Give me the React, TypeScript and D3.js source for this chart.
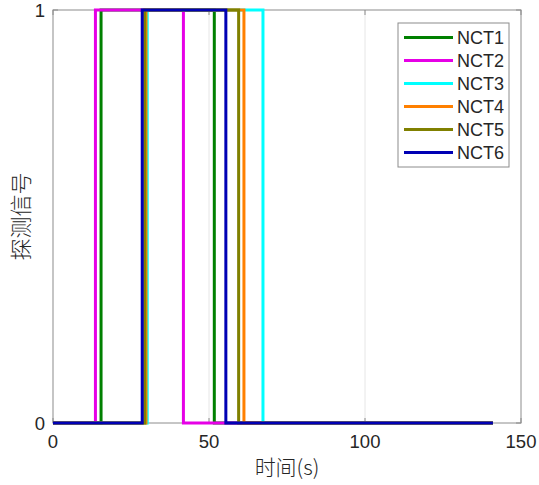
import React from "react";
import * as d3 from "d3";

const seriesNames = ["NCT1", "NCT2", "NCT3", "NCT4", "NCT5", "NCT6"];
const seriesColors = ["#008000", "#e600e6", "#00ffff", "#ff8000", "#808000", "#0000b4"];
// step signals: time points and values
const nct1T = [0, 15.4, 15.4, 51.7, 51.7, 141];
const nct2T = [0, 13.6, 13.6, 41.8, 41.8, 141];
const nct3T = [0, 30.2, 30.2, 67.3, 67.3, 141];
const nct4T = [0, 29.8, 29.8, 61.2, 61.2, 141];
const nct5T = [0, 29.4, 29.4, 59.5, 59.5, 141];
const nct6T = [0, 28.6, 28.6, 55.4, 55.4, 141];
const stepV = [0, 0, 1, 1, 0, 0];
const seriesTimes = [nct1T, nct2T, nct3T, nct4T, nct5T, nct6T];
const xTicks = [0, 50, 100, 150];
const yTicks = [0, 1];
const xLabel = "时间(s)";
const yLabel = "探测信号";

const W = 539, H = 485;
const L = 53, R = 521, T = 10, B = 423;

export default function App() {
  const x = d3.scaleLinear().domain([0, 150]).range([L, R]);
  const y = d3.scaleLinear().domain([0, 1]).range([B, T]);
  const line = d3.line<[number, number]>().x(d => x(d[0])).y(d => y(d[1]));
  const font = "'Liberation Sans', Arial, sans-serif";
  const cjk = "'Noto Sans CJK SC', sans-serif";
  const txt = "#262626";
  const axisC = "#8c8c8c";
  const legX = 398, legY = 23, legW = 111, legH = 144;
  return (
    <svg width={W} height={H} style={{ position: "absolute", left: 0, top: 0, background: "#fff" }}>
      <rect x={0} y={0} width={W} height={H} fill="#fff" />
      {/* grid */}
      {xTicks.slice(1, -1).map(t => (
        <line key={"g" + t} x1={x(t)} x2={x(t)} y1={T} y2={B} stroke="#e6e6e6" strokeWidth={1} />
      ))}
      {/* axes box */}
      <rect x={L} y={T} width={R - L} height={B - T} fill="none" stroke={axisC} strokeWidth={1} />
      {xTicks.map(t => (
        <g key={"xt" + t}>
          <line x1={x(t)} x2={x(t)} y1={B} y2={B - 5} stroke={axisC} />
          <line x1={x(t)} x2={x(t)} y1={T} y2={T + 5} stroke={axisC} />
          <text x={x(t)} y={B + 25} textAnchor="middle" fontFamily={font} fontSize={18.5} fill={txt}>{t}</text>
        </g>
      ))}
      {yTicks.map(t => (
        <g key={"yt" + t}>
          <line x1={L} x2={L + 5} y1={y(t)} y2={y(t)} stroke={axisC} />
          <line x1={R} x2={R - 5} y1={y(t)} y2={y(t)} stroke={axisC} />
          <text x={L - 8} y={y(t) + 7} textAnchor="end" fontFamily={font} fontSize={18.5} fill={txt}>{t}</text>
        </g>
      ))}
      {/* series */}
      {seriesTimes.map((ts, i) => (
        <path key={seriesNames[i]} d={line(ts.map((t, j) => [t, stepV[j]] as [number, number])) || ""}
          fill="none" stroke={seriesColors[i]} strokeWidth={3} />
      ))}
      {/* labels */}
      <text x={(L + R) / 2} y={475} textAnchor="middle" fontFamily={cjk} fontSize={21} fontWeight={300} fill={txt}>{xLabel}</text>
      <text transform={`translate(29,${(T + B) / 2}) rotate(-90)`} textAnchor="middle" fontFamily={cjk} fontSize={22} fontWeight={300} fill={txt}>{yLabel}</text>
      {/* legend */}
      <rect x={legX} y={legY} width={legW} height={legH} fill="#fff" stroke={axisC} strokeWidth={1} />
      {seriesNames.map((n, i) => {
        const yy = legY + 14.5 + i * 23;
        return (
          <g key={"lg" + n}>
            <line x1={404} x2={453} y1={yy} y2={yy} stroke={seriesColors[i]} strokeWidth={3} />
            <text x={457} y={yy + 6.5} fontFamily={font} fontSize={18} fill={txt}>{n}</text>
          </g>
        );
      })}
    </svg>
  );
}
